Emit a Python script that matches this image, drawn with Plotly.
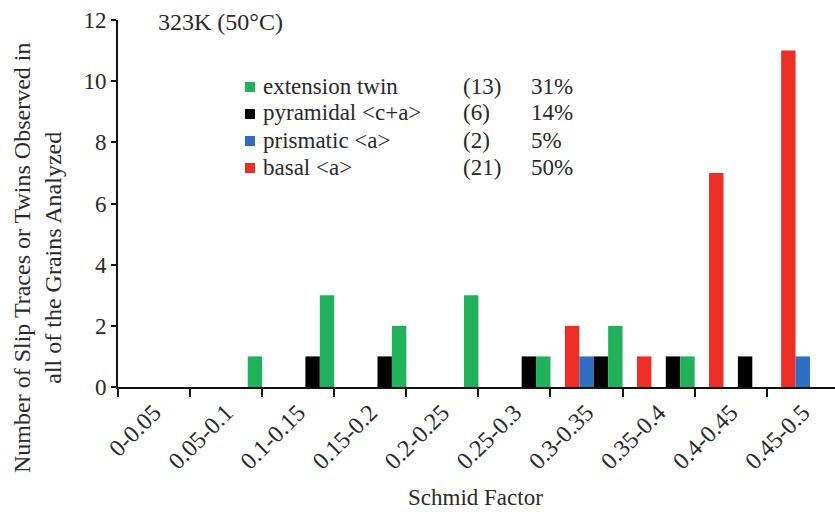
import plotly.graph_objects as go

categories = ["0-0.05", "0.05-0.1", "0.1-0.15", "0.15-0.2", "0.2-0.25",
              "0.25-0.3", "0.3-0.35", "0.35-0.4", "0.4-0.45", "0.45-0.5"]
basal = [0, 0, 0, 0, 0, 0, 2, 1, 7, 11]
prismatic = [0, 0, 0, 0, 0, 0, 1, 0, 0, 1]
pyramidal = [0, 0, 1, 1, 0, 1, 1, 1, 1, 0]
ext_twin = [0, 1, 3, 2, 3, 1, 2, 1, 0, 0]

legend_names = ["extension twin", "pyramidal <c+a>", "prismatic <a>", "basal <a>"]
legend_counts = ["(13)", "(6)", "(2)", "(21)"]
legend_pcts = ["31%", "14%", "5%", "50%"]

RED = "#EE2E24"
BLUE = "#2C6FC0"
BLACK = "#000000"
GREEN = "#1FB25A"
FONT = "'Liberation Serif', 'Times New Roman', 'DejaVu Serif', serif"
TXT = "#2a2a2a"

W, H = 835, 514
L, R, T, B = 118, 0, 20, 127
pw, ph = W - L - R, H - T - B

def px(x):
    return (x - L) / pw

def py(y):
    return (H - B - y) / ph

fig = go.Figure()
series = [(basal, RED, -0.3, "basal <a>"), (prismatic, BLUE, -0.1, "prismatic <a>"),
          (pyramidal, BLACK, 0.1, "pyramidal <c+a>"), (ext_twin, GREEN, 0.3, "extension twin")]
for vals, col, off, name in series:
    fig.add_trace(go.Bar(x=categories, y=vals, offset=off, width=0.2,
                         marker=dict(color=col, line=dict(width=0)),
                         name=name, showlegend=False))

fig.update_layout(
    width=W, height=H, barmode="overlay",
    margin=dict(l=L, r=R, t=T, b=B),
    paper_bgcolor="white", plot_bgcolor="white",
    font=dict(family=FONT, size=22, color=TXT),
    xaxis=dict(type="category", range=[-0.5, -0.5 + pw / 72.08],
               showline=True, linecolor="#111", linewidth=2,
               ticks="outside", tickson="boundaries", ticklen=8, tickwidth=2, tickcolor="#111",
               tickangle=-45, tickfont=dict(family=FONT, size=24, color=TXT),
               showgrid=False, zeroline=False, automargin=False),
    yaxis=dict(range=[0, 12], dtick=2, showline=True, linecolor="#111", linewidth=2,
               ticks="outside", ticklen=5, tickwidth=2, tickcolor="#111",
               tickfont=dict(family=FONT, size=23, color=TXT),
               showgrid=False, zeroline=False, automargin=False),
)

ann = []
ann.append(dict(text="323K (50°C)", x=px(156), y=py(22), xref="paper", yref="paper",
                xanchor="left", yanchor="middle", showarrow=False,
                font=dict(family=FONT, size=24, color=TXT)))
ann.append(dict(text="Schmid Factor", x=px(475), y=py(497), xref="paper", yref="paper",
                xanchor="center", yanchor="middle", showarrow=False,
                font=dict(family=FONT, size=23, color=TXT)))
ann.append(dict(text="Number of Slip Traces or Twins Observed in<br>all of the Grains Analyzed",
                x=px(37), y=py(258), xref="paper", yref="paper", textangle=-90,
                xanchor="center", yanchor="middle", showarrow=False,
                font=dict(family=FONT, size=24, color=TXT)))

legend_colors = [GREEN, BLACK, BLUE, RED]
row_y = [86, 113, 140, 167]
for i in range(4):
    ann.append(dict(text=legend_names[i].replace("<", "&lt;").replace(">", "&gt;"),
                    x=px(261), y=py(row_y[i]), xref="paper", yref="paper",
                    xanchor="left", yanchor="middle", showarrow=False,
                    font=dict(family=FONT, size=23, color=TXT)))
    ann.append(dict(text=legend_counts[i], x=px(461), y=py(row_y[i]), xref="paper", yref="paper",
                    xanchor="left", yanchor="middle", showarrow=False,
                    font=dict(family=FONT, size=23, color=TXT)))
    ann.append(dict(text=legend_pcts[i], x=px(529), y=py(row_y[i]), xref="paper", yref="paper",
                    xanchor="left", yanchor="middle", showarrow=False,
                    font=dict(family=FONT, size=23, color=TXT)))
fig.update_layout(annotations=ann)

shapes = []
for i in range(4):
    shapes.append(dict(type="rect", xref="paper", yref="paper",
                       x0=px(245), x1=px(255), y0=py(row_y[i] + 6), y1=py(row_y[i] - 4),
                       fillcolor=legend_colors[i], line=dict(width=0)))
fig.update_layout(shapes=shapes)

fig.write_html("out.html", config={"displayModeBar": False},
               post_script="document.body.style.margin='0';")
